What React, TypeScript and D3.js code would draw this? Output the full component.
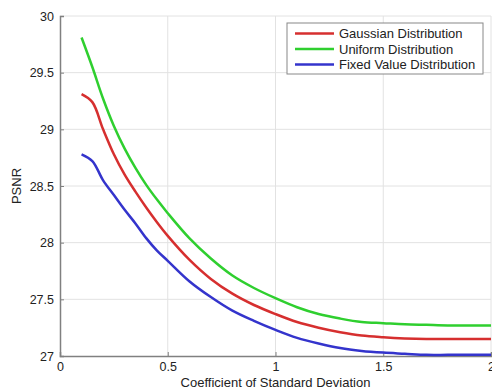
import { useRef, useEffect } from 'react';
import { select, scaleLinear, line, axisBottom, axisLeft, curveCatmullRom } from 'd3';

const xs = [0.1, 0.15, 0.2, 0.25, 0.3, 0.35, 0.4, 0.45, 0.5, 0.6, 0.7, 0.8, 0.9, 1.0, 1.1, 1.2, 1.3, 1.4, 1.5, 1.6, 1.7, 1.8, 1.9, 2.0];
const gaussian = [29.31, 29.24, 29.0, 28.78, 28.6, 28.45, 28.31, 28.18, 28.06, 27.85, 27.68, 27.55, 27.45, 27.37, 27.3, 27.25, 27.21, 27.18, 27.165, 27.155, 27.15, 27.15, 27.15, 27.15];
const uniform = [29.81, 29.55, 29.27, 29.03, 28.83, 28.66, 28.51, 28.38, 28.26, 28.04, 27.86, 27.71, 27.6, 27.51, 27.43, 27.37, 27.33, 27.3, 27.29, 27.28, 27.275, 27.27, 27.27, 27.27];
const fixedVal = [28.78, 28.72, 28.55, 28.42, 28.29, 28.17, 28.04, 27.93, 27.84, 27.66, 27.52, 27.4, 27.31, 27.23, 27.16, 27.11, 27.07, 27.045, 27.03, 27.02, 27.01, 27.01, 27.01, 27.01];
const seriesNames = ['Gaussian Distribution', 'Uniform Distribution', 'Fixed Value Distribution'];
const seriesColors = ['#d62f2f', '#2fcf2f', '#3434cc'];
const xTicks = [0, 0.5, 1, 1.5, 2];
const yTicks = [27, 27.5, 28, 28.5, 29, 29.5, 30];

export default function App() {
    const svgRef = useRef<SVGSVGElement | null>(null);

    useEffect(() => {
        const svg = select(svgRef.current);
        svg.selectAll('*').remove();
        const left = 60, right = 491, top = 16, bottom = 356;
        const x = scaleLinear().domain([0, 2]).range([left, right]);
        const y = scaleLinear().domain([27, 30]).range([bottom, top]);
        const font = 'Liberation Sans, Arial, sans-serif';

        // grid
        const grid = svg.append('g');
        grid.selectAll('.gx').data(xTicks.slice(1)).join('line')
            .attr('x1', (d) => x(d)).attr('x2', (d) => x(d))
            .attr('y1', top).attr('y2', bottom)
            .attr('stroke', '#e2e2e2').attr('stroke-width', 1);
        grid.selectAll('.gy').data(yTicks.slice(1)).join('line')
            .attr('x1', left).attr('x2', right)
            .attr('y1', (d) => y(d)).attr('y2', (d) => y(d))
            .attr('stroke', '#e2e2e2').attr('stroke-width', 1);

        // axes
        const xAxis: any = axisBottom(x).tickValues(xTicks).tickSize(-4).tickPadding(6).tickFormat((d: any) => '' + d);
        const yAxis: any = axisLeft(y).tickValues(yTicks).tickSize(-4).tickPadding(6).tickFormat((d: any) => '' + d);
        const gx = svg.append('g').attr('transform', `translate(0,${bottom})`).call(xAxis);
        const gy = svg.append('g').attr('transform', `translate(${left},0)`).call(yAxis);
        [gx, gy].forEach((g) => {
            g.select('.domain').attr('stroke', '#808080').attr('stroke-width', 1.5);
            g.selectAll('.tick line').attr('stroke', '#808080');
            g.selectAll('.tick text').attr('fill', '#222').attr('font-size', 12.5).attr('font-family', font);
        });

        // lines
        const all = [gaussian, uniform, fixedVal];
        const gen = line<number>().x((d, i) => x(xs[i])).y((d) => y(d)).curve(curveCatmullRom.alpha(0.5));
        all.forEach((vals, i) => {
            svg.append('path').datum(vals)
                .attr('d', gen)
                .attr('fill', 'none')
                .attr('stroke', seriesColors[i])
                .attr('stroke-width', 2.5)
                .attr('stroke-linejoin', 'round');
        });

        // legend
        const lg = svg.append('g');
        lg.append('rect').attr('x', 287).attr('y', 23).attr('width', 196).attr('height', 51)
            .attr('fill', '#fff').attr('stroke', '#888').attr('stroke-width', 1);
        seriesNames.forEach((name, i) => {
            const yy = 33.5 + i * 15.5;
            lg.append('line').attr('x1', 295).attr('x2', 334).attr('y1', yy).attr('y2', yy)
                .attr('stroke', seriesColors[i]).attr('stroke-width', 2.5);
            lg.append('text').attr('x', 339).attr('y', yy + 4.5).text(name)
                .attr('font-size', 13).attr('font-family', font).attr('fill', '#222');
        });

        // labels
        svg.append('text').attr('x', x(1)).attr('y', 387).attr('text-anchor', 'middle')
            .attr('font-size', 13).attr('font-family', font).attr('fill', '#222')
            .text('Coefficient of Standard Deviation');
        svg.append('text').attr('transform', `translate(21,${(top + bottom) / 2}) rotate(-90)`)
            .attr('text-anchor', 'middle')
            .attr('font-size', 13).attr('font-family', font).attr('fill', '#222')
            .text('PSNR');
    }, []);

    return (
        <svg ref={svgRef} width={492} height={389} style={{ position: 'absolute', left: 0, top: 0, background: '#fff' }} />
    );
}
